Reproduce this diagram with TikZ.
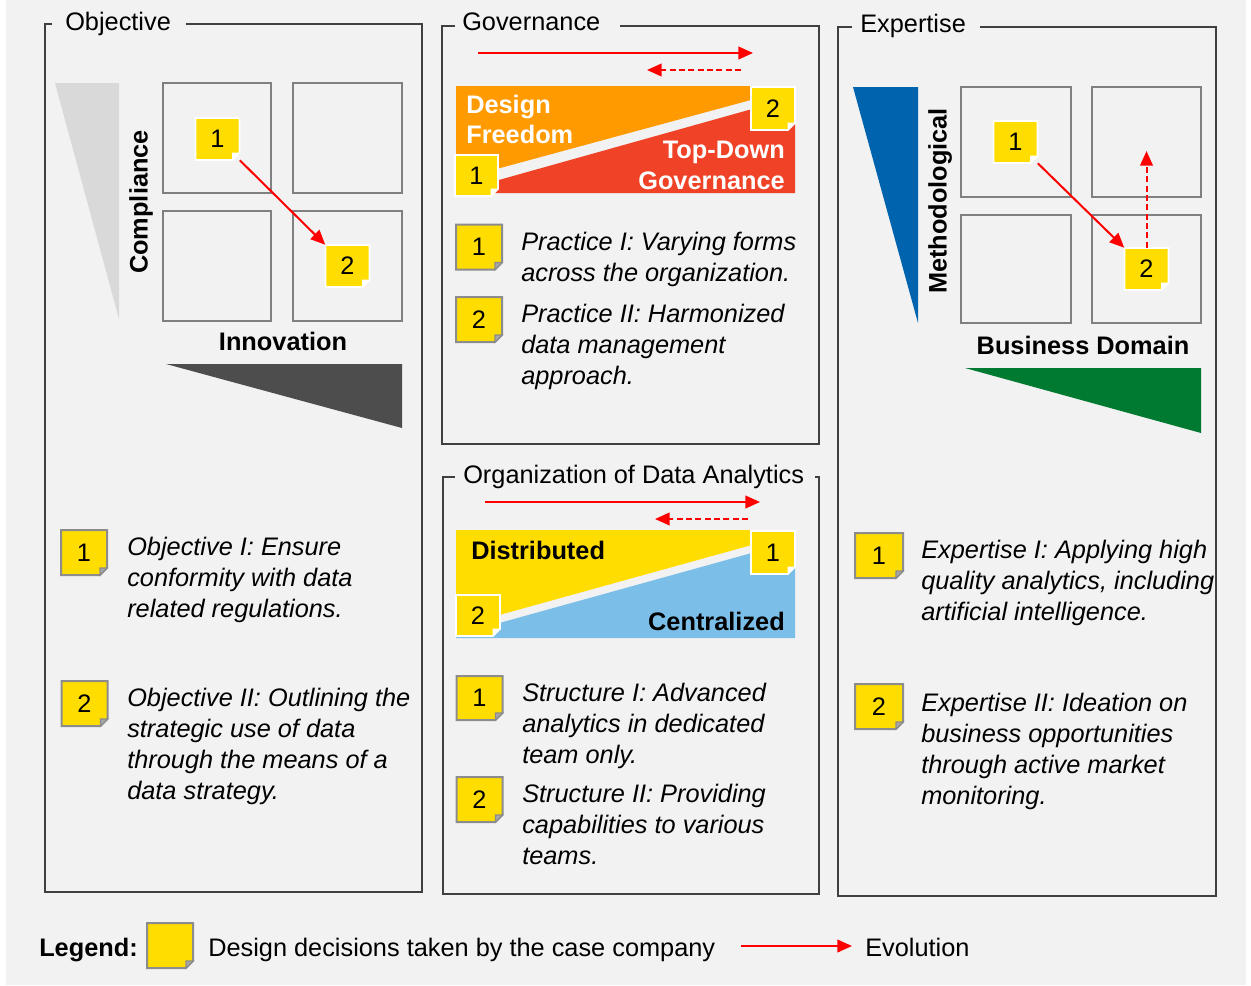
\documentclass[tikz,border=0pt]{standalone}
\usepackage{fontspec}
\setmainfont{Liberation Sans}
\usetikzlibrary{arrows.meta}
\definecolor{bgc}{HTML}{F2F2F2}
\definecolor{yel}{HTML}{FFDD00}
\definecolor{bgray}{HTML}{8C8C8C}
\definecolor{foldg}{HTML}{A6A6A6}
\definecolor{sqgray}{HTML}{808080}
\definecolor{pan}{HTML}{404040}
\definecolor{ltri}{HTML}{D9D9D9}
\definecolor{dtri}{HTML}{4D4D4D}
\definecolor{orng}{HTML}{FF9A00}
\definecolor{redf}{HTML}{F04226}
\definecolor{lblue}{HTML}{7BBFE9}
\definecolor{dblue}{HTML}{0063AE}
\definecolor{grn}{HTML}{007A30}
\definecolor{arrred}{HTML}{FF0000}
\newcommand{\fs}{\fontsize{19}{23.25}\selectfont}
\newcommand{\bdg}[7]{%
  \path[#1shape] (#3-#5,#4-#6) -- (#3+#5,#4-#6) -- (#3+#5,#4+#6-7) -- (#3+#5-7,#4+#6) -- (#3-#5,#4+#6) -- cycle;
  \path[#1fold] (#3+#5,#4+#6-7) -- (#3+#5-7,#4+#6-7) -- (#3+#5-7,#4+#6) -- cycle;
  \node[btxt, minimum width=#5*1.5pt, minimum height=#6*1.5pt] (#2) at (#3,#4) {\raisebox{-1.8pt}{#7}};}
\begin{document}
\begin{tikzpicture}[x=0.75pt,y=-0.75pt,
  panel/.style={draw=pan,line width=0.9pt},
  ptitle/.style={anchor=base west,inner sep=0pt,font=\fs},
  sq/.style={draw=sqgray,line width=1.5pt},
  blab/.style={inner sep=0pt,font=\fs\bfseries},
  wlab/.style={inner sep=0pt,font=\fs\bfseries,text=white},
  item/.style={anchor=north west,inner sep=0pt,align=left,font=\fs\itshape},
  evo/.style={draw=arrred,line width=1.5pt,-{Triangle[length=11pt,width=9.5pt]}},
  evod/.style={evo,dash pattern=on 4.5pt off 2.5pt},
  btxt/.style={inner sep=0pt,font=\fs},
  inshape/.style={fill=yel,draw=white,line width=1.2pt},
  infold/.style={fill=white,draw=white,line width=0.5pt},
  lishape/.style={fill=yel,draw=bgray,line width=1.5pt},
  lifold/.style={fill=foldg,draw=bgray,line width=0.8pt}]
\useasboundingbox (0,0) rectangle (1251,985);
\fill[white] (0,0) rectangle (1251,985);
\fill[bgc] (6,0) rectangle (1246,985);

% panels
\draw[panel] (52,24) -- (45,24) -- (45,892) -- (422,892) -- (422,24) -- (186,24);
\draw[panel] (455,26) -- (442,26) -- (442,444) -- (819,444) -- (819,26) -- (620,26);
\draw[panel] (455,477) -- (443,477) -- (443,894) -- (819,894) -- (819,477) -- (815,477);
\draw[panel] (852,27) -- (838,27) -- (838,896) -- (1216,896) -- (1216,27) -- (980,27);
\node[ptitle] (tobj) at (65,30) {Objective};
\node[ptitle] (tgov) at (462,31) {Governance};
\node[ptitle] (torg) at (463,483) {Organization of Data Analytics};
\node[ptitle] (texp) at (860,32) {Expertise};

% Objective matrix
\fill[ltri] (55,83) -- (119,83) -- (119,319) -- cycle;
\fill[dtri] (166,364) -- (402,364) -- (402,428) -- cycle;
\draw[sq] (163,83) rectangle (271,193);
\draw[sq] (293,83) rectangle (402,193);
\draw[sq] (163,211) rectangle (271,321);
\draw[sq] (293,211) rectangle (402,321);
\node[blab,rotate=90] (lcomp) at (141,202) {Compliance};
\node[blab,anchor=base] (linno) at (283,350) {Innovation};
\bdg{in}{ob1}{217.5}{139}{22}{21}{1}
\bdg{in}{ob2}{347.5}{266}{22}{21}{2}
\draw[evo] (ob1.south east) -- (ob2.north west);

% Expertise matrix
\fill[dblue] (853,87) -- (918,87) -- (918,323) -- cycle;
\fill[grn] (965,368) -- (1201,368) -- (1201,433) -- cycle;
\draw[sq] (961,87) rectangle (1071,197);
\draw[sq] (1092,87) rectangle (1201,197);
\draw[sq] (961,215) rectangle (1071,323);
\draw[sq] (1092,215) rectangle (1201,323);
\node[blab,rotate=90] (lmeth) at (940,201) {Methodological};
\node[blab,anchor=base] (lbus) at (1083,354) {Business Domain};
\bdg{in}{eb1}{1015.5}{142}{22}{21}{1}
\bdg{in}{eb2}{1146.5}{269}{22}{21}{2}
\draw[evo] (eb1.south east) -- (eb2.north west);
\coordinate (edtip) at (1146.5,151);
\draw[evod] (eb2.north) -- (edtip);

% Governance
\coordinate (ga1) at (478,53);
\coordinate (ga2) at (753,53);
\draw[evo] (ga1) -- (ga2);
\coordinate (gd1) at (741,70);
\coordinate (gd2) at (647,70);
\draw[evod] (gd1) -- (gd2);
\fill[orng] (456,86) -- (795,86) -- (795,88) -- (456,180) -- cycle;
\fill[redf] (456,192) -- (795,97) -- (795,193) -- (456,193) -- cycle;
\node[wlab,anchor=base west] (ldes) at (466,113) {Design};
\node[wlab,anchor=base west] (lfree) at (466,143) {Freedom};
\node[wlab,anchor=base east] (ltop) at (785,158) {Top-Down};
\node[wlab,anchor=base east] (lgovn) at (785,189) {Governance};
\bdg{in}{gb1}{476.5}{175.5}{21.5}{20.5}{1}
\bdg{in}{gb2}{773}{108.5}{22}{21.5}{2}
\bdg{li}{gl1}{479}{247}{23}{22.5}{1}
\bdg{li}{gl2}{479}{319.5}{23}{22.5}{2}
\node[item] (gt1) at (521,231.5) {Practice I: Varying forms\\across the organization.};
\node[item] (gt2) at (521,304) {Practice II: Harmonized\\data management\\approach.};

% Organization of Data Analytics
\coordinate (oa1) at (485,502);
\coordinate (oa2) at (760,502);
\draw[evo] (oa1) -- (oa2);
\coordinate (od1) at (748,519);
\coordinate (od2) at (655,519);
\draw[evod] (od1) -- (od2);
\fill[yel] (456,530) -- (795,530) -- (795,533) -- (456,627) -- cycle;
\fill[lblue] (456,635) -- (795,541) -- (795,638) -- (456,638) -- cycle;
\node[blab,anchor=base west] (ldist) at (471,559) {Distributed};
\node[blab,anchor=base east] (lcent) at (785,630) {Centralized};
\bdg{in}{rb1}{773}{552.5}{22}{21.5}{1}
\bdg{in}{rb2}{478}{615.5}{22}{20.5}{2}
\bdg{li}{rl1}{479.5}{698}{23}{22}{1}
\bdg{li}{rl2}{479.5}{799.5}{23}{22.5}{2}
\node[item] (rt1) at (522,683) {Structure I: Advanced\\analytics in dedicated\\team only.};
\node[item] (rt2) at (522,784) {Structure II: Providing\\capabilities to various\\teams.};

% Objective list
\bdg{li}{ol1}{84}{552.5}{23}{22.5}{1}
\bdg{li}{ol2}{84.5}{703.5}{23}{22.5}{2}
\node[item] (ot1) at (127,537) {Objective I: Ensure\\conformity with data\\related regulations.};
\node[item] (ot2) at (127,688) {Objective II: Outlining the\\strategic use of data\\through the means of a\\data strategy.};

% Expertise list
\bdg{li}{el1}{879}{555.5}{24}{22.5}{1}
\bdg{li}{el2}{879}{706.5}{24}{22.5}{2}
\node[item] (et1) at (921,540) {Expertise I: Applying high\\quality analytics, including\\artificial intelligence.};
\node[item] (et2) at (921,692.5) {Expertise II: Ideation on\\business opportunities\\through active market\\monitoring.};

% Legend
\node[blab,anchor=base west] (leg) at (39,956) {Legend:};
\bdg{li}{lgb}{170}{945.5}{23}{22.5}{}
\node[btxt,anchor=base west] (legt) at (208,956) {Design decisions taken by the case company};
\coordinate (la1) at (741,946);
\coordinate (la2) at (852,946);
\draw[evo] (la1) -- (la2);
\node[btxt,anchor=base west] (lev) at (865,956) {Evolution};
\end{tikzpicture}
\end{document}
